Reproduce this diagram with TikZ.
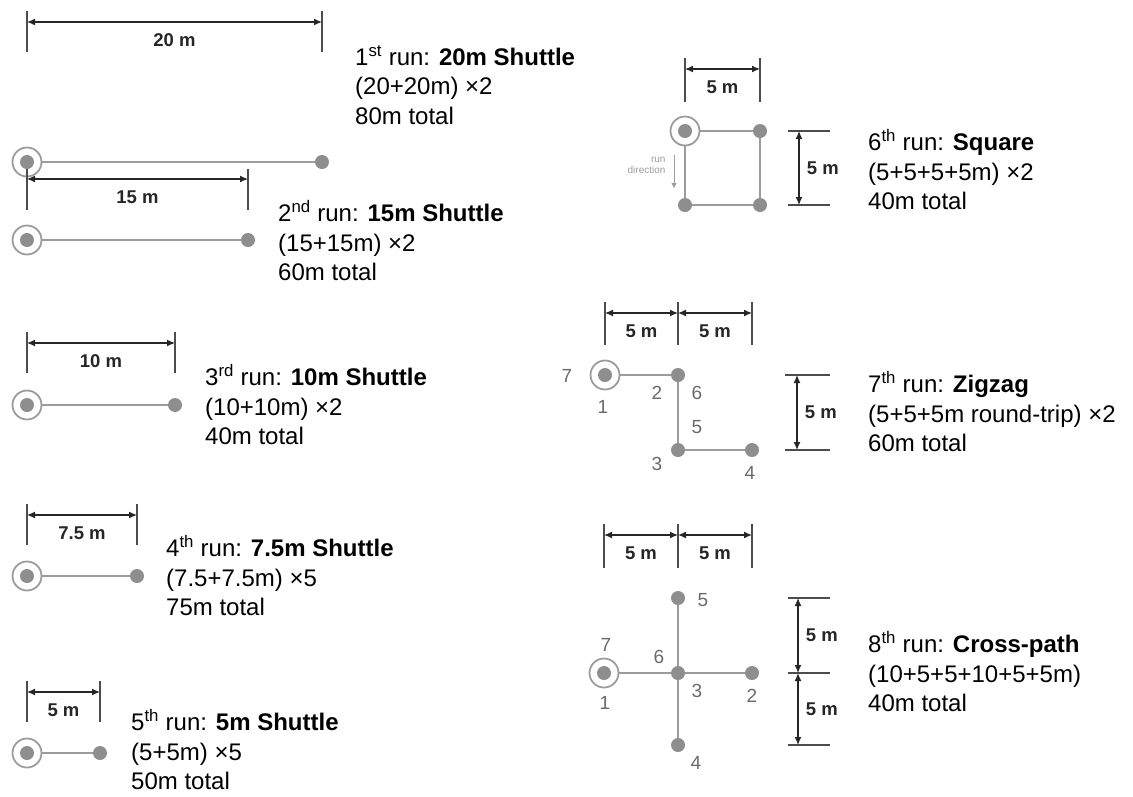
\documentclass[tikz,border=0pt]{standalone}
\usepackage{fontspec}
\setmainfont{Liberation Sans}
\usetikzlibrary{arrows.meta,positioning}
\definecolor{trackgray}{HTML}{9C9C9C}
\definecolor{dotgray}{HTML}{8E8E8E}
\definecolor{numgray}{HTML}{6A6A6A}
\tikzset{>={Latex[length=8pt,width=7pt]},
  track/.style={trackgray,line width=2.6pt},
  cone/.style={circle,fill=dotgray,inner sep=0pt,minimum size=14pt},
  start/.style={circle,draw=trackgray,line width=1.8pt,inner sep=0pt,minimum size=29pt,
    path picture={\fill[dotgray] (path picture bounding box.center) circle(7pt);}},
  dimline/.style={<->,line width=1.3pt,black!85},
  tick/.style={line width=1.3pt,black!70},
  dimlab/.style={font=\fontsize{18.5}{21}\selectfont\bfseries},
  info/.style={anchor=west,align=left,inner sep=0pt,font=\fontsize{24}{29.5}\selectfont},
  num/.style={numgray,font=\fontsize{19}{22}\selectfont}}
% horizontal dimension: from, to, tick top, tick bottom, arrow y, label
\newcommand{\hdim}[6]{\draw[tick] (#1 |- 0,#3)--(#1 |- 0,#4);\draw[tick] (#2 |- 0,#3)--(#2 |- 0,#4);
  \draw[dimline] (#1 |- 0,#5)-- node[dimlab,below=8pt]{#6} (#2 |- 0,#5);}
% vertical dimension: from, to, tick left, tick right, arrow x, label
\newcommand{\vdim}[6]{\draw[tick] (#3,0 |- #1)--(#4,0 |- #1);\draw[tick] (#3,0 |- #2)--(#4,0 |- #2);
  \draw[dimline] (#5,0 |- #1)-- node[dimlab,right=4pt]{#6} (#5,0 |- #2);}

\begin{document}
\begin{tikzpicture}[x=1pt,y=-1pt]
\useasboundingbox (0,0) rectangle (1133,796);
% shuttles
\node[start] (s1a) at (27,162){};\node[cone] (s1b) at (322,162){};\draw[track] (s1a)--(s1b);
\hdim{s1a}{s1b}{11}{52}{22}{20 m}
\node[info] (t1) at (355,85){1\textsuperscript{st} run: \textbf{20m Shuttle}\\(20+20m) ×2\\80m total};
\node[start] (s2a) at (27,240){};\node[cone] (s2b) at (248,240){};\draw[track] (s2a)--(s2b);
\hdim{s2a}{s2b}{169}{210}{179}{15 m}
\node[info] (t2) at (278,241){2\textsuperscript{nd} run: \textbf{15m Shuttle}\\(15+15m) ×2\\60m total};
\node[start] (s3a) at (27,405){};\node[cone] (s3b) at (175,405){};\draw[track] (s3a)--(s3b);
\hdim{s3a}{s3b}{332}{373}{343}{10 m}
\node[info] (t3) at (205,405){3\textsuperscript{rd} run: \textbf{10m Shuttle}\\(10+10m) ×2\\40m total};
\node[start] (s4a) at (27,576){};\node[cone] (s4b) at (137,576){};\draw[track] (s4a)--(s4b);
\hdim{s4a}{s4b}{504}{545}{515}{7.5 m}
\node[info] (t4) at (166,576){4\textsuperscript{th} run: \textbf{7.5m Shuttle}\\(7.5+7.5m) ×5\\75m total};
\node[start] (s5a) at (27,753){};\node[cone] (s5b) at (100,753){};\draw[track] (s5a)--(s5b);
\hdim{s5a}{s5b}{681}{722}{692}{5 m}
\node[info] (t5) at (131,750){5\textsuperscript{th} run: \textbf{5m Shuttle}\\(5+5m) ×5\\50m total};
% square
\node[start] (q1) at (685,131){};\node[cone] (q2) at (760,131){};
\node[cone] (q3) at (760,205){};\node[cone] (q4) at (685,205){};
\draw[track] (q1)--(q2);\draw[track] (q2)--(q3);\draw[track] (q3)--(q4);\draw[track] (q4)--(q1);
\hdim{q1}{q2}{58}{102}{69}{5 m}
\vdim{q1}{q4}{788}{830}{799}{5 m}
\node[trackgray,align=right,anchor=east,font=\fontsize{10}{11}\selectfont] (rd) at (669,165){run\\direction};
\coordinate (rd1) at (674,155);\coordinate (rd2) at (674,188);
\draw[->,trackgray,line width=.8pt,>={Triangle[length=5pt,width=5pt]}] (rd1)--(rd2);
\node[info] (t6) at (868,170){6\textsuperscript{th} run: \textbf{Square}\\(5+5+5+5m) ×2\\40m total};
% zigzag
\node[start] (z1) at (605,375){};\node[cone] (z2) at (678,375){};
\node[cone] (z3) at (678,450){};\node[cone] (z4) at (752,450){};
\draw[track] (z1)--(z2);\draw[track] (z2)--(z3);\draw[track] (z3)--(z4);
\hdim{z1}{z2}{302}{345}{313}{5 m}\hdim{z2}{z4}{302}{345}{313}{5 m}
\vdim{z2}{z3}{785}{830}{797}{5 m}
\node[num] at (567,376){7};\node[num] at (603,407){1};\node[num] at (657,393){2};
\node[num] at (697,393){6};\node[num] at (697,427){5};\node[num] at (657,464){3};\node[num] at (750,473){4};
\node[info] (t7) at (868,412){7\textsuperscript{th} run: \textbf{Zigzag}\\(5+5+5m round-trip) ×2\\60m total};
% cross
\node[start] (c1) at (604,673){};\node[cone] (c0) at (678,673){};\node[cone] (c2) at (752,673){};
\node[cone] (c5) at (678,598){};\node[cone] (c4) at (678,745){};
\draw[track] (c1)--(c0);\draw[track] (c0)--(c2);\draw[track] (c5)--(c0);\draw[track] (c0)--(c4);
\hdim{c1}{c0}{524}{568}{535}{5 m}\hdim{c0}{c2}{524}{568}{535}{5 m}
\vdim{c5}{c0}{788}{830}{798}{5 m}\vdim{c0}{c4}{788}{830}{798}{5 m}
\node[num] at (606,645){7};\node[num] at (605,703){1};\node[num] at (659,657){6};
\node[num] at (697,691){3};\node[num] at (752,696){2};\node[num] at (703,600){5};\node[num] at (696,763){4};
\node[info] (t8) at (868,672){8\textsuperscript{th} run: \textbf{Cross-path}\\(10+5+5+10+5+5m)\\40m total};
\end{tikzpicture}
\end{document}
